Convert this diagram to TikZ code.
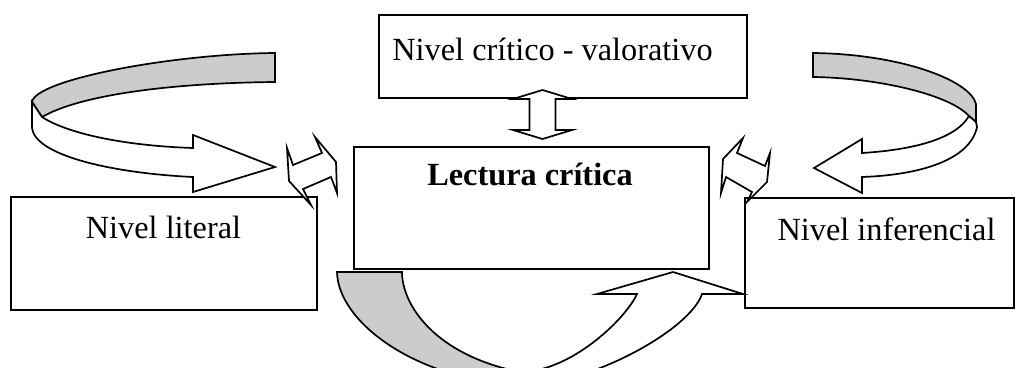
\documentclass[tikz,border=0pt]{standalone}
\usepackage{fontspec}
\setmainfont{Liberation Serif}
\definecolor{ribgray}{RGB}{204,204,204}
\newcommand\tnrsize{\fontsize{32.3}{38}\selectfont}
\tikzset{
  box/.style={draw, line width=1.7pt, fill=white, inner sep=0pt},
  lbl/.style={font=\tnrsize, anchor=base, inner sep=0pt},
  blk/.style={draw, line width=1.7pt, line join=miter, fill=white},
  rib/.style={draw, line width=1.7pt, line join=miter, fill=ribgray},
}
\begin{document}
\begin{tikzpicture}[x=1pt,y=-1pt]
\useasboundingbox (0,0) rectangle (1016,367);
% boxes
\node[box, minimum width=306pt, minimum height=113pt] (lit) at (164,253.5) {};
\node[box, minimum width=269pt, minimum height=110pt] (inf) at (879.5,253) {};
\node[box, minimum width=355pt, minimum height=122pt] (cen) at (531.5,208) {};
\node[box, minimum width=368pt, minimum height=83pt] (top) at (563,56.5) {};
% labels
\node[lbl] (tlit) at (163.5,238) {Nivel literal};
\node[lbl] (tinf) at (886.5,240) {Nivel inferencial};
\node[lbl, font=\tnrsize\bfseries] (tcen) at (530,185) {Lectura crítica};
\node[lbl] (ttop) at (552.5,60) {Nivel crítico - valorativo};
% left ribbon
\path[rib] (275,53) .. controls (170,54) and (35,80) .. (32,102) -- (42,117) .. controls (80,95) and (170,83) .. (275,82) -- cycle;
\path[blk] (32,102) -- (42,117) .. controls (70,135) and (130,146) .. (193,148) -- (193,135) -- (275,167) -- (193,192) -- (193,177) .. controls (110,173) and (35,155) .. (32,128) -- cycle;
% right ribbon
\path[rib] (813,53) .. controls (900,54) and (970,80) .. (976,104) -- (976,122) -- (969,116) .. controls (950,95) and (880,78) .. (813,77) -- cycle;
\path[blk] (976,122) -- (969,116) .. controls (955,140) and (910,150) .. (862,153) -- (862,139) -- (814,168) -- (862,193) -- (862,177) .. controls (920,175) and (970,160) .. (977,127) -- cycle;
% bottom ribbon
\begin{scope}
\clip (0,0) rectangle (1016,367);
\path[rib] (337,272) -- (402,272) .. controls (402,305) and (435,355) .. (520,372) -- (520,386) .. controls (410,378) and (338,320) .. (337,272) -- cycle;
\path[blk] (520,372) .. controls (570,372) and (625,320) .. (637,294) -- (597,294) -- (673,272) -- (743,294) -- (702,294) .. controls (690,330) and (590,385) .. (520,386) -- cycle;
\end{scope}
% small double arrows
\path[blk] (287,148) -- (293,165) -- (322,153) -- (315,137) -- (336,162) -- (337,193) -- (331,177) -- (303,189) -- (311,205) -- (289,181) -- cycle;
\path[blk] (743,138) -- (737,153) -- (765,166) -- (770,153) -- (767,182) -- (747,202) -- (752,192) -- (726,177) -- (721,193) -- (723,159) -- cycle;
\path[blk] (542.5,90) -- (572,99) -- (555.5,99) -- (555.5,130) -- (572,130) -- (542.5,139) -- (513,130) -- (529.5,130) -- (529.5,99) -- (513,99) -- cycle;
\end{tikzpicture}
\end{document}
